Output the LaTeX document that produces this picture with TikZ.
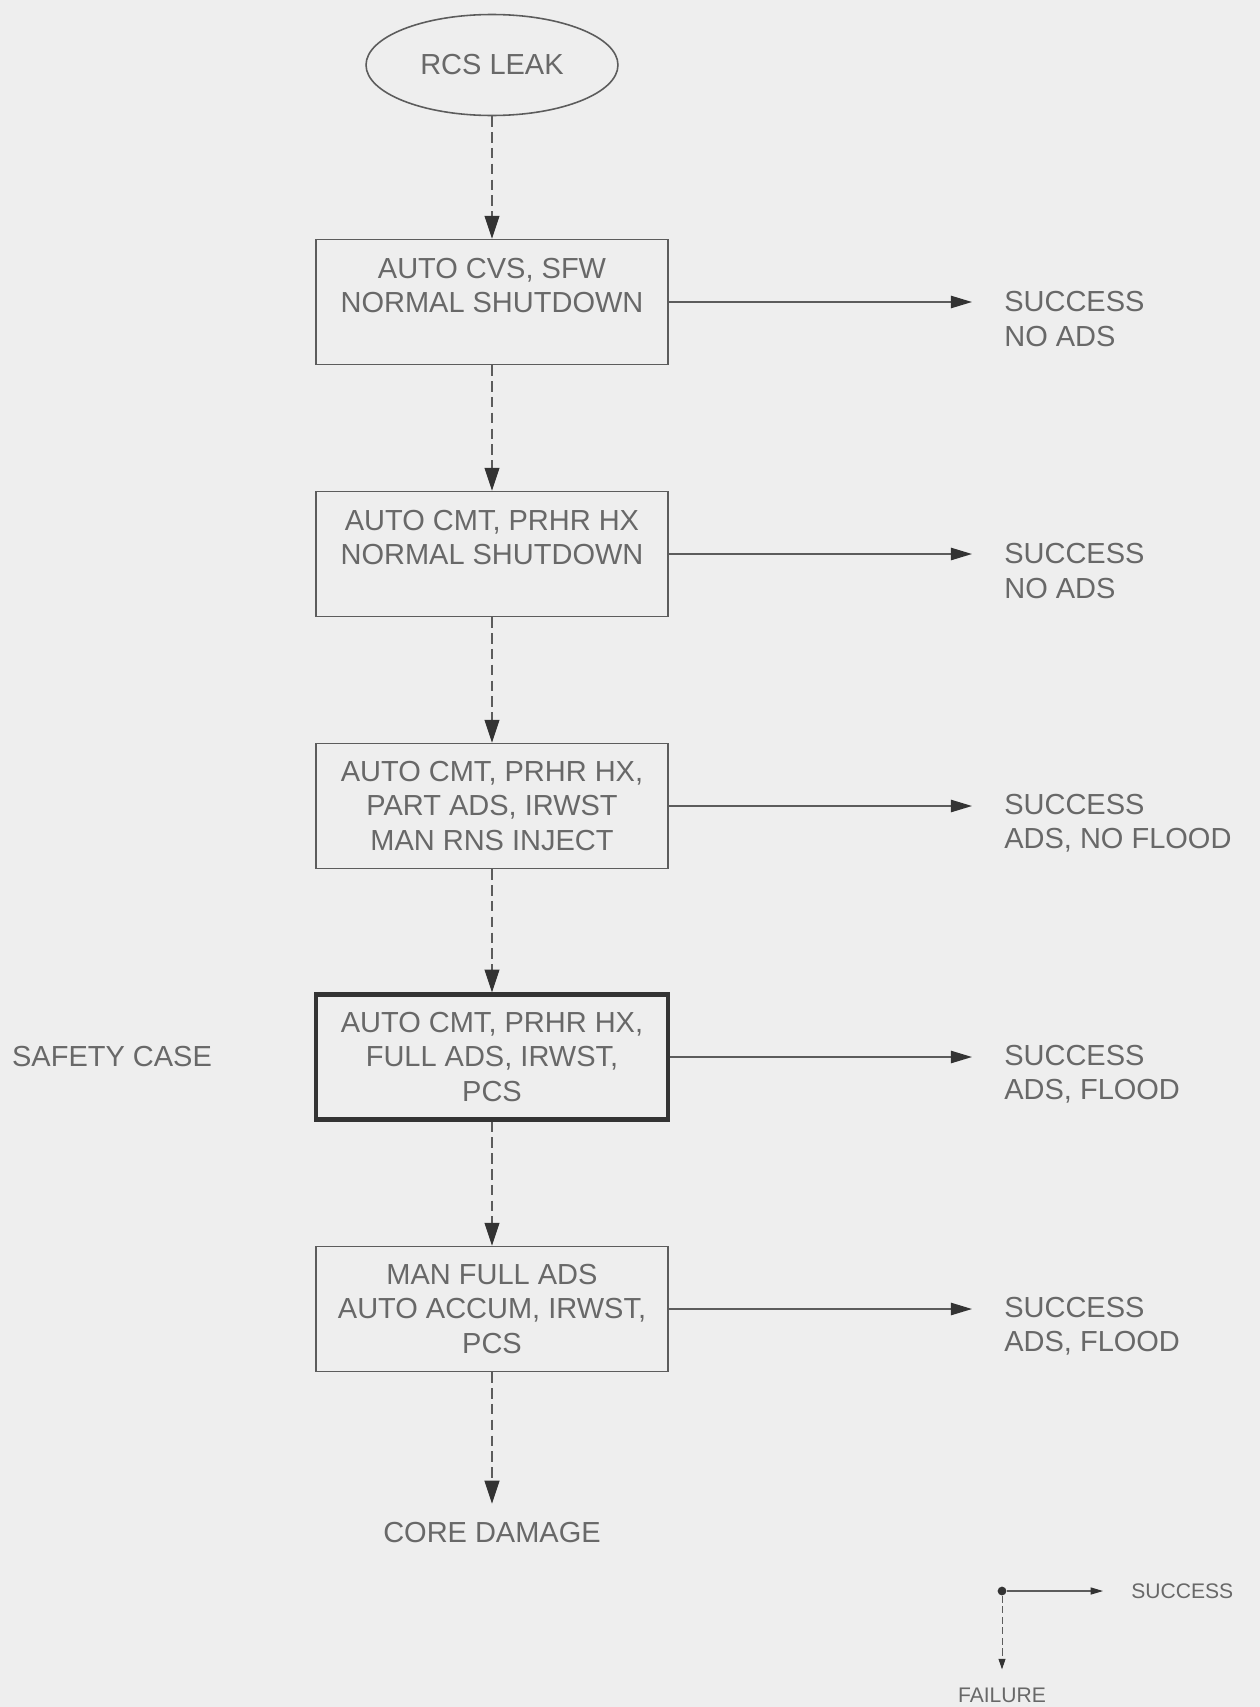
\documentclass[tikz,border=0pt]{standalone}
\usepackage{fontspec}
\setmainfont{Liberation Sans}
\usetikzlibrary{arrows.meta, shapes.geometric}
\definecolor{paper}{HTML}{EEEEEE}
\definecolor{ink}{HTML}{5C5C5C}
\definecolor{textink}{HTML}{686868}
\definecolor{darkink}{HTML}{333333}
\tikzset{
  stepbox/.style={draw=ink, line width=0.9pt, minimum width=7.04cm, minimum height=2.5cm, align=center, inner sep=0pt},
  safebox/.style={stepbox, draw=darkink, line width=2.4pt},
  fail/.style={-{Triangle[length=13pt, width=8.5pt, color=darkink]}, draw=ink, line width=0.6pt, dash pattern=on 6pt off 3pt},
  succ/.style={-{Triangle[length=12pt, width=7pt, color=darkink]}, draw=ink, line width=0.9pt},
  keyfail/.style={-{Triangle[length=6pt, width=4pt, color=darkink]}, draw=ink, line width=0.5pt, dash pattern=on 4pt off 2pt},
  keysucc/.style={-{Triangle[length=7pt, width=4pt, color=darkink]}, draw=ink, line width=0.6pt},
  outcome/.style={anchor=west, align=left, inner sep=0pt},
  small/.style={font=\fontsize{12}{14}\selectfont},
  every node/.append style={text=textink, font=\fontsize{16.5}{19.4}\selectfont}
}

\begin{document}
\begin{tikzpicture}[x=0.02cm, y=-0.02cm]
\fill[paper] (0,0) rectangle (1260,1707);
\useasboundingbox (0,0) rectangle (1260,1707);
% event tree steps
\node[ellipse, draw=ink, line width=0.9pt, minimum width=5.04cm, minimum height=2.02cm] (leak) at (492,65) {RCS LEAK};
\node[stepbox] (b1) at (492,302) {AUTO CVS, SFW\\NORMAL SHUTDOWN\\\mbox{}};
\node[stepbox] (b2) at (492,554) {AUTO CMT, PRHR HX\\NORMAL SHUTDOWN\\\mbox{}};
\node[stepbox] (b3) at (492,806) {AUTO CMT, PRHR HX,\\PART ADS, IRWST\\MAN RNS INJECT};
\node[safebox] (b4) at (492,1057) {AUTO CMT, PRHR HX,\\FULL ADS, IRWST,\\PCS};
\node[stepbox] (b5) at (492,1309) {MAN FULL ADS\\AUTO ACCUM, IRWST,\\PCS};
\node (core) at (492,1533) {CORE DAMAGE};
\node (safety) at (112,1057) {SAFETY CASE};
% outcomes
\node[outcome] (s1) at (1004,319) {SUCCESS\\NO ADS};
\node[outcome] (s2) at (1004,571) {SUCCESS\\NO ADS};
\node[outcome] (s3) at (1004,823) {SUCCESS\\ADS, NO FLOOD};
\node[outcome] (s4) at (1004,1074) {SUCCESS\\ADS, FLOOD};
\node[outcome] (s5) at (1004,1326) {SUCCESS\\ADS, FLOOD};
\foreach \a/\b in {leak/b1, b1/b2, b2/b3, b3/b4, b4/b5} {\draw[fail] (\a) -- (\b);}
\draw[fail, shorten >=0.26cm] (b5) -- (core);
\foreach \i in {1,...,5} {\draw[succ, shorten >=0.64cm] (b\i.east) -- (b\i.east -| s\i.west);}
% key
\node[circle, fill=darkink, inner sep=0pt, minimum size=5pt] (key) at (1002,1591) {};
\node[outcome, small] (keys) at (1131,1591) {SUCCESS};
\node[small, inner sep=0pt] (keyf) at (1002,1695) {FAILURE};
\draw[keysucc, shorten >=0.56cm] (key) -- (keys);
\draw[keyfail, shorten >=0.36cm] (key) -- (keyf);
\end{tikzpicture}
\end{document}
